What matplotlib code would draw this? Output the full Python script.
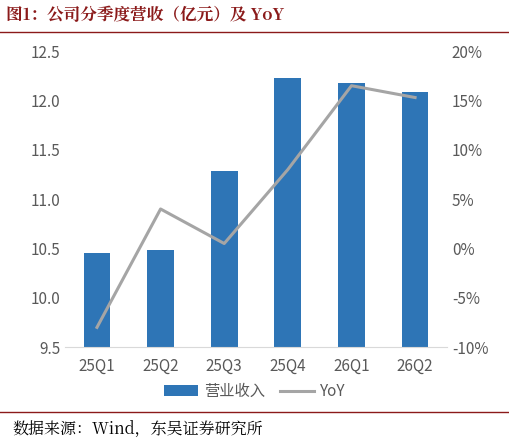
import matplotlib
matplotlib.use("Agg")
import matplotlib.pyplot as plt
from matplotlib.ticker import FuncFormatter

plt.rcParams['font.family'] = ['Noto Sans CJK SC', 'DejaVu Sans']

quarters = ['25Q1', '25Q2', '25Q3', '25Q4', '26Q1', '26Q2']
revenue = [10.45, 10.48, 11.29, 12.23, 12.18, 12.09]
yoy = [-8.0, 4.0, 0.5, 8.0, 16.5, 15.3]

fig = plt.figure(figsize=(5.09, 4.45), dpi=100)
ax = fig.add_axes([0.128, 0.22, 0.75, 0.665])
x = range(len(quarters))
ax.bar(x, revenue, width=0.42, color='#2E75B6', label='营业收入')
ax.set_ylim(9.5, 12.5)
ax.set_yticks([9.5, 10.0, 10.5, 11.0, 11.5, 12.0, 12.5])
ax.yaxis.set_major_formatter(FuncFormatter(lambda v, p: f'{v:.1f}'))
ax.set_xticks(list(x))
ax.set_xticklabels(quarters)
ax.set_xlim(-0.5, 5.5)
ax2 = ax.twinx()
ax2.plot(x, yoy, color='#A5A5A5', lw=2.2, label='YoY')
ax2.set_ylim(-10, 20)
ax2.set_yticks(range(-10, 21, 5))
ax2.yaxis.set_major_formatter(FuncFormatter(lambda v, p: f'{v:.0f}%'))
for a in (ax, ax2):
    for s in a.spines.values():
        s.set_visible(False)
    a.tick_params(length=0, labelsize=11, colors='#595959')
ax.spines['bottom'].set_visible(True)
ax.spines['bottom'].set_color('#D9D9D9')
ax.tick_params(axis='x', pad=8)

h1, l1 = ax.get_legend_handles_labels()
h2, l2 = ax2.get_legend_handles_labels()
fig.legend(h1 + h2, l1 + l2, loc='center', bbox_to_anchor=(0.5, 0.12), ncol=2,
           frameon=False, fontsize=11, labelcolor='#595959', handlelength=2.2,
           columnspacing=1.0, handletextpad=0.4)

serif = ['Noto Serif CJK SC', 'Noto Sans CJK SC', 'DejaVu Serif']
fig.text(0.012, 0.965, '图1：公司分季度营收（亿元）及 YoY', fontsize=12, fontweight='bold',
         color='#8B1A1A', va='center', family=serif)
fig.add_artist(plt.Line2D([0.0, 1.0], [0.928, 0.928], color='#8B1A1A', lw=1))
fig.add_artist(plt.Line2D([0.0, 1.0], [0.075, 0.075], color='#8B1A1A', lw=1))
fig.text(0.025, 0.035, '数据来源：Wind，东吴证券研究所', fontsize=11.5, va='center', color='black',
         family=serif)
fig.savefig('out.png', dpi=100)
